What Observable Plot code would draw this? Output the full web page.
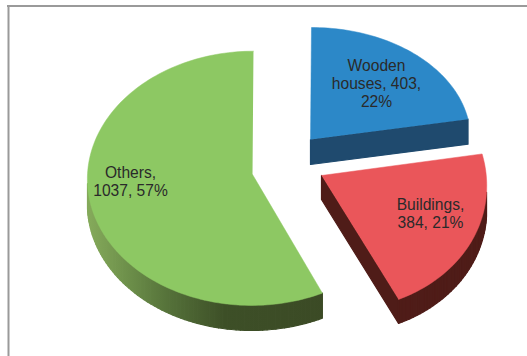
<!DOCTYPE html>
<html>
<head>
<meta charset="utf-8">
<script src="https://cdn.jsdelivr.net/npm/d3@7"></script>
<script src="https://cdn.jsdelivr.net/npm/@observablehq/plot@0.6"></script>
<style>
  html, body { margin: 0; padding: 0; background: #fff; }
  svg { display: block; }
</style>
</head>
<body>
<div id="chart"></div>
<script>
// Damage counts by building type
const categories = ["Wooden houses", "Buildings", "Others"];
const counts = [403, 384, 1037];
const shares = ["22%", "21%", "57%"];
const labelBreaks = ["Wooden\nhouses, 403,\n22%", "Buildings,\n384, 21%", "Others,\n1037, 57%"];

const width = 527, height = 356;
const total = d3.sum(counts);

// Each wedge is a tilted disc sector: apex, in-plane axes, perspective and extrusion depth.
const wedgeStyle = [
  {top: "#2c88c8", side: "#1f4a6e", apex: [310, 139], u: [160, 0], v: [-1, 112], k: 0, depth: 25, lx: 376, ly: 83},
  {top: "#ea565a", side: "#4f1c18", apex: [321, 175], u: [165, 3], v: [9, 135], k: 0, depth: 24, lx: 430, ly: 213},
  {top: "#8dc863", side: "url(#greenSide)", apex: [252, 174], u: [165, 0], v: [-1, 127], k: 0.03, depth: 25, lx: 130, ly: 181}
];

let running = 0;
const wedges = categories.map((name, i) => {
  const start = running / total * 2 * Math.PI;
  running += counts[i];
  const end = running / total * 2 * Math.PI;
  const s = wedgeStyle[i];
  const project = (a) => {
    const X = Math.sin(a), Y = -Math.cos(a), w = 1 - s.k * Y;
    return [s.apex[0] + (s.u[0] * X + s.v[0] * Y) / w, s.apex[1] + (s.u[1] * X + s.v[1] * Y) / w];
  };
  const steps = Math.ceil((end - start) / (Math.PI / 120));
  const outline = [s.apex];
  for (let j = 0; j <= steps; ++j) outline.push(project(start + (end - start) * j / steps));
  return {name, ...s, outline, label: labelBreaks[i]};
});

// Extruded wall of a wedge: a closed quad swept downward from every outline edge
// whose outward side faces the viewer.
const wall = (w) => {
  const rows = [];
  const n = w.outline.length;
  for (let i = 0; i < n; ++i) {
    const [x0, y0] = w.outline[i], [x1, y1] = w.outline[(i + 1) % n];
    if ((x0 - x1) / Math.hypot(x1 - x0, y1 - y0) < 0.05) continue;
    rows.push(
      {q: i, x: x0, y: y0}, {q: i, x: x1, y: y1},
      {q: i, x: x1, y: y1 + w.depth}, {q: i, x: x0, y: y0 + w.depth},
      {q: i, x: x0, y: y0}
    );
  }
  return rows;
};

// Horizontal shading of the large wedge's curved wall
const greenStops = [[0.27, "#84a95a"], [0.4, "#6a8c48"], [0.52, "#536f38"], [0.68, "#3d4f27"], [1, "#3b4a25"]];
const defs = () => {
  const ns = "http://www.w3.org/2000/svg";
  const d = document.createElementNS(ns, "defs");
  const g = document.createElementNS(ns, "linearGradient");
  g.setAttribute("id", "greenSide");
  g.setAttribute("gradientUnits", "userSpaceOnUse");
  g.setAttribute("x1", 0); g.setAttribute("x2", 330);
  g.setAttribute("y1", 0); g.setAttribute("y2", 0);
  for (const [o, c] of greenStops) {
    const st = document.createElementNS(ns, "stop");
    st.setAttribute("offset", o);
    st.setAttribute("stop-color", c);
    g.appendChild(st);
  }
  d.appendChild(g);
  return d;
};

const marks = [defs];
for (const i of [2, 1, 0]) {
  const w = wedges[i];
  marks.push(Plot.line(wall(w), {x: "x", y: "y", z: "q", fill: w.side, stroke: w.side, strokeWidth: 1.2, strokeLinejoin: "round"}));
  marks.push(Plot.line(w.outline, {x: d => d[0], y: d => d[1], fill: w.top, stroke: w.top, strokeWidth: 0.5}));
}
marks.push(
  Plot.text(wedges, {
    x: "lx", y: "ly", text: "label",
    fontFamily: "Liberation Sans", fontSize: 15.6, lineHeight: 1.16,
    fill: "#2a2a2a", textAnchor: "middle", lineAnchor: "middle"
  }),
  // Chart-area frame, open at the right and bottom
  Plot.ruleY([5.5], {x1: 7, x2: width, stroke: "#9a9a9a", strokeWidth: 2}),
  Plot.ruleX([8], {y1: 5, y2: height, stroke: "#9a9a9a", strokeWidth: 2})
);

const chart = Plot.plot({
  width, height,
  margin: 0,
  style: {background: "#fff"},
  x: {domain: [0, width], range: [0, width], axis: null},
  y: {domain: [0, height], range: [0, height], axis: null},
  marks
});
document.getElementById("chart").appendChild(chart);
</script>
</body>
</html>
